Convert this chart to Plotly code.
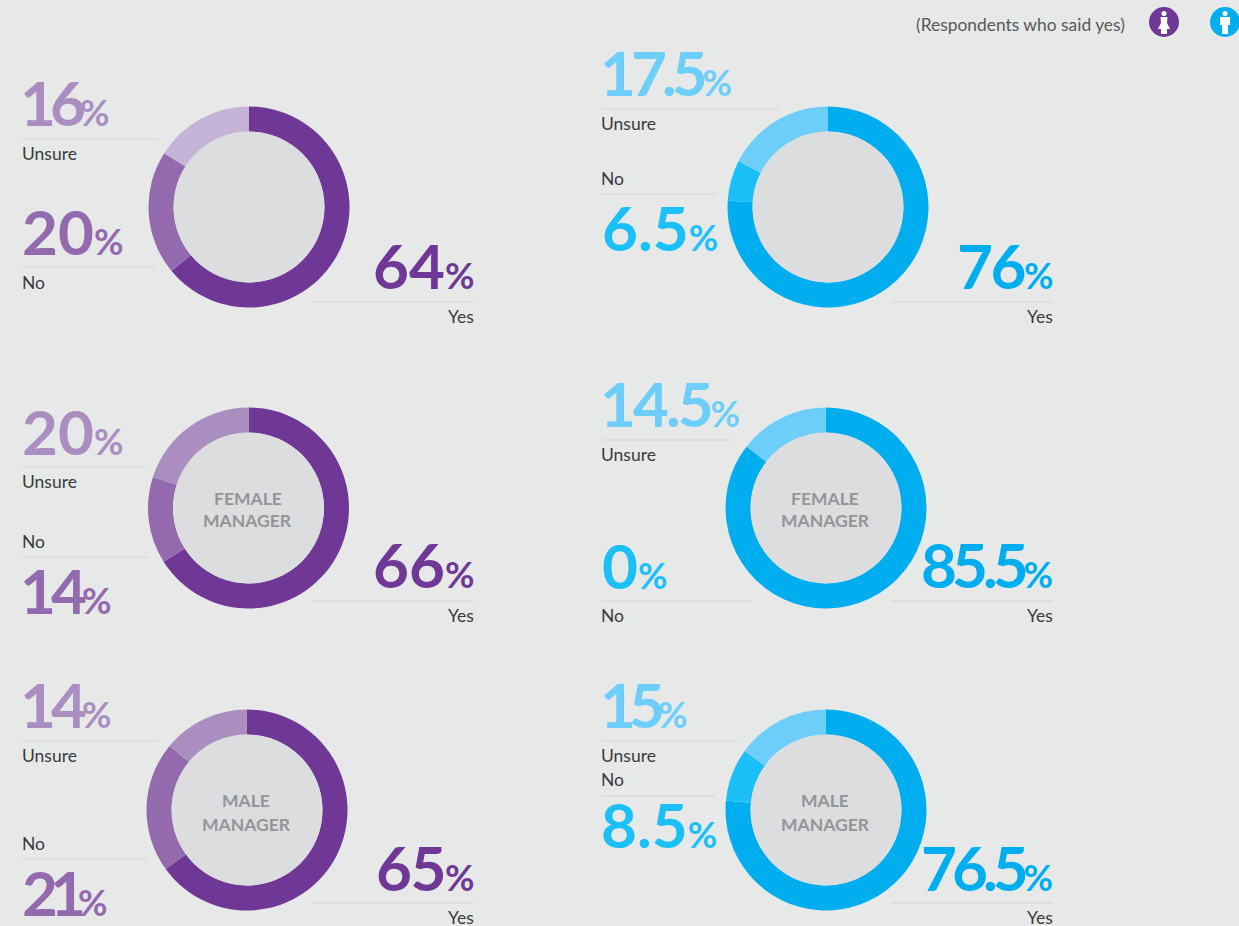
import plotly.graph_objects as go

W, H = 1239, 926
categories = ["Yes", "No", "Unsure"]
yes_values = [64, 76, 66, 85.5, 65, 76.5]
no_values = [20, 6.5, 14, 0, 21, 8.5]
unsure_values = [16, 17.5, 20, 14.5, 14, 15]
centre_labels = ["", "", "FEMALE<br>MANAGER", "FEMALE<br>MANAGER", "MALE<br>MANAGER", "MALE<br>MANAGER"]
header = "(Respondents who said yes)"

PURPLE = ["#703896", "#936AAE", "#C6B3D8"]
PURPLE2 = ["#703896", "#936AAE", "#AB8EC0"]
BLUE = ["#00AEEF", "#1CC0F8", "#6DCFF9"]
palettes = [PURPLE, BLUE, PURPLE2, BLUE, PURPLE2, BLUE]
centres = [(249, 207), (828, 207), (248.5, 508), (826, 508), (247, 810), (826, 810)]
R = 100.5

# per-chart label layout: (left-or-right x, number centre y, rule y, rule x0, x1, word y)
layouts = [
    {"Unsure": (20, 102, 139, 22, 158, 154), "No": (22, 231, 267, 22, 155, 282), "Yes": (474, 265, 302, 312, 474, 316)},
    {"Unsure": (600, 72, 109, 602, 779, 123), "No": (602, 227, 194, 602, 716, 179), "Yes": (1053, 265, 302, 891, 1053, 316)},
    {"Unsure": (22, 431, 467, 22, 146, 482), "No": (20, 590, 557, 22, 148, 541), "Yes": (474, 564, 601, 312, 474, 615)},
    {"Unsure": (600, 403, 440, 602, 733, 455), "No": (602, 565, 601, 602, 752, 615), "Yes": (1053, 564, 601, 891, 1053, 615)},
    {"Unsure": (20, 704, 741, 22, 158, 755), "No": (22, 892, 859, 22, 147, 843), "Yes": (474, 867, 903, 312, 474, 917)},
    {"Unsure": (600, 704, 741, 602, 738, 755), "No": (601, 824, 796, 602, 715, 779), "Yes": (1053, 867, 903, 891, 1053, 917)},
]
# letter spacing of the big figures, px
spacing = {"16": -6, "17.5": -5, "14.5": -3, "14": -5, "15": -7, "21": -8, "76": -2.5, "65": -1.5,
           "85.5": -5, "76.5": -5}

FONT = "Lato, 'Open Sans', sans-serif"
fx = lambda x: x / W
fy = lambda y: 1 - y / H

fig = go.Figure()
shapes, annotations = [], []


def note(x, y, text, size, color, anchor="left", bold=False):
    annotations.append(dict(
        x=fx(x), y=fy(y), xref="paper", yref="paper", text=f"<b>{text}</b>" if bold else text,
        showarrow=False, xanchor=anchor, yanchor="middle", align="center",
        font=dict(family=FONT, size=size, color=color), borderpad=0, borderwidth=0))


for i, (cx, cy) in enumerate(centres):
    vals = [yes_values[i], no_values[i], unsure_values[i]]
    pal = palettes[i]
    fig.add_trace(go.Pie(
        labels=categories, values=vals, hole=0.75, sort=False, direction="clockwise", rotation=0,
        marker=dict(colors=pal, line=dict(width=0)), textinfo="none", showlegend=False,
        domain=dict(x=[fx(cx - R), fx(cx + R)], y=[fy(cy + R), fy(cy - R)]),
        hovertemplate="%{label}: %{value}%<extra></extra>"))
    shapes.append(dict(type="circle", xref="paper", yref="paper", x0=fx(cx - 75.5), x1=fx(cx + 75.5),
                       y0=fy(cy + 75.5), y1=fy(cy - 75.5), fillcolor="#DCDDDF", line=dict(width=0)))
    if centre_labels[i]:
        a, b = centre_labels[i].split("<br>")
        note(cx - 1, cy - 9.5, a, 17.5, "#939598", "center", True)
        note(cx - 1, cy + (12 if a == "FEMALE" else 14), b, 17.5, "#939598", "center", True)
    for j, cat in enumerate(categories):
        x, ny, ry, rx0, rx1, wy = layouts[i][cat]
        anchor = "right" if cat == "Yes" else "left"
        num = f"{vals[j]:g}"
        col = "#AB8EC0" if pal[j] == "#C6B3D8" else pal[j]
        txt = (f'<b><span style="letter-spacing:{spacing.get(num, 0)}px">{num}</span>'
               f'<span style="font-size:36px">%</span></b>')
        note(x, ny, txt, 62, col, anchor)
        shapes.append(dict(type="line", xref="paper", yref="paper", x0=fx(rx0), x1=fx(rx1),
                           y0=fy(ry), y1=fy(ry), line=dict(color="#D4D5D6", width=1)))
        note(x if cat == "Yes" else (rx0 - (1 if rx0 > 500 else 0)), wy, cat, 17.5, "#3A3A3C", anchor)

note(1125, 25, header, 17.4, "#58595B", "right")
# header icons
for icx, col, skirt in [(1164, "#703896", True), (1225, "#00AEEF", False)]:
    shapes.append(dict(type="circle", xref="paper", yref="paper", x0=fx(icx - 15), x1=fx(icx + 15),
                       y0=fy(37), y1=fy(7), fillcolor=col, line=dict(width=0)))
    shapes.append(dict(type="circle", xref="paper", yref="paper", x0=fx(icx - 2.5), x1=fx(icx + 2.5),
                       y0=fy(16), y1=fy(11), fillcolor="white", line=dict(width=0)))
    if skirt:
        pts = [(-3.5, 17), (3.5, 17), (3, 23), (6, 29), (3, 29), (3, 34), (-3, 34), (-3, 29), (-6, 29), (-3, 23)]
    else:
        pts = [(-5, 17), (5, 17), (5, 25), (3, 25), (3, 34), (-3, 34), (-3, 25), (-5, 25)]
    path = "M" + " L".join(f"{fx(icx + dx):.5f},{fy(dy):.5f}" for dx, dy in pts) + " Z"
    shapes.append(dict(type="path", xref="paper", yref="paper", path=path, fillcolor="white", line=dict(width=0)))

fig.update_layout(width=W, height=H, autosize=False, margin=dict(l=0, r=0, t=0, b=0),
                  paper_bgcolor="#E7E9E8", plot_bgcolor="#E7E9E8", font=dict(family=FONT),
                  shapes=shapes, annotations=annotations, showlegend=False)
fig.write_html("out.html", config=dict(displayModeBar=False),
               post_script="document.body.style.margin='0';document.body.style.overflow='hidden';")
